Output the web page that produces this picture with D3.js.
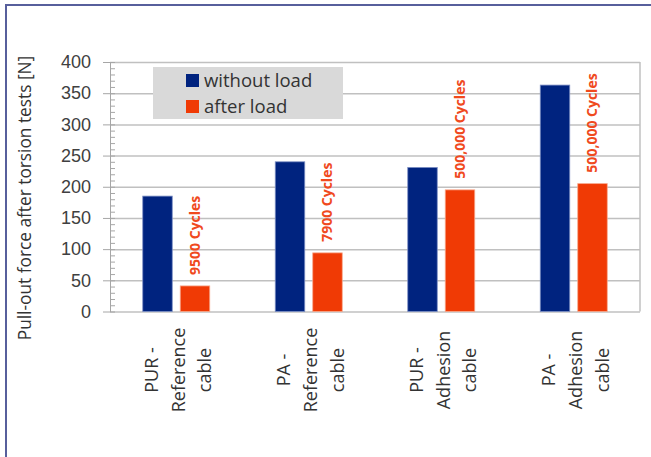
<!DOCTYPE html>
<html lang="en">
<head>
<meta charset="UTF-8">
<title>Pull-out force after torsion tests</title>
<script src="https://d3js.org/d3.v7.min.js"></script>
<style>
  body { margin: 0; background: #fff; }
  svg { display: block; font-family: "Open Sans", sans-serif; }
  .grid line { stroke: #c0c0c0; stroke-width: 1.5; }
  .grid path { display: none; }
  .yaxis path, .yaxis line { stroke: #a6a6a6; }
  .yaxis text { font-family: "Liberation Sans", Arial, sans-serif; font-size: 18px; fill: #404040; }
  .minor path { display: none; }
  .minor line { stroke: #a6a6a6; }
</style>
</head>
<body>
<div id="chart"></div>
<script>
  // data
  const categories = ["PUR - Reference cable", "PA - Reference cable", "PUR - Adhesion cable", "PA - Adhesion cable"];
  const categoryLines = [["PUR -", "Reference", "cable"], ["PA -", "Reference", "cable"], ["PUR -", "Adhesion", "cable"], ["PA -", "Adhesion", "cable"]];
  const seriesNames = ["without load", "after load"];
  const withoutLoad = [185, 240, 231, 363];
  const afterLoad = [41, 94, 195, 205];
  const cycleLabels = ["9500 Cycles", "7900 Cycles", "500,000 Cycles", "500,000 Cycles"];
  const yTicks = [0, 50, 100, 150, 200, 250, 300, 350, 400];
  const colors = ["#00237f", "#f03a05"];

  const W = 651, H = 457;
  const plot = { left: 110, right: 640, top: 62, bottom: 311.5 };

  const svg = d3.select("#chart").append("svg")
    .attr("width", W)
    .attr("height", H);

  // outer frame (only top and left visible)
  svg.append("rect")
    .attr("x", 6).attr("y", 5)
    .attr("width", 700).attr("height", 500)
    .attr("fill", "none")
    .attr("stroke", "#575f9c")
    .attr("stroke-width", 2);

  const y = d3.scaleLinear().domain([0, 400]).range([plot.bottom, plot.top]);
  const x0 = d3.scaleBand().domain(categories).range([plot.left, plot.right]).padding(0);
  const half = 33.5;
  const x1 = d3.scaleBand().domain(seriesNames)
    .range([x0.bandwidth() / 2 - half, x0.bandwidth() / 2 + half])
    .paddingInner(0.213).paddingOuter(0);

  // gridlines
  svg.append("g")
    .attr("class", "grid")
    .attr("transform", `translate(${plot.left},0)`)
    .call(d3.axisLeft(y).tickValues(yTicks).tickSize(-(plot.right - plot.left)).tickFormat(""));

  // right border of plot area
  svg.append("line")
    .attr("x1", plot.right).attr("x2", plot.right)
    .attr("y1", plot.top).attr("y2", plot.bottom)
    .attr("stroke", "#c0c0c0").attr("stroke-width", 1.5);

  // minor ticks (inside)
  svg.append("g")
    .attr("class", "minor")
    .attr("transform", `translate(${plot.left},0)`)
    .call(d3.axisRight(y).tickValues(d3.range(0, 401, 10)).tickSize(5).tickFormat(""));

  // y axis
  svg.append("g")
    .attr("class", "yaxis")
    .attr("transform", `translate(${plot.left},0)`)
    .call(d3.axisLeft(y).tickValues(yTicks).tickSize(7).tickPadding(12).tickSizeOuter(0));

  // y axis title
  svg.append("text")
    .attr("transform", `translate(31,198) rotate(-90)`)
    .attr("text-anchor", "middle")
    .attr("font-size", 17.3)
    .attr("fill", "#333")
    .text("Pull-out force after torsion tests [N]");

  // bars
  const rows = categories.map((c, i) => ({ cat: c, vals: [withoutLoad[i], afterLoad[i]], label: cycleLabels[i], lines: categoryLines[i] }));

  const groups = svg.selectAll(".group")
    .data(rows)
    .enter()
    .append("g")
    .attr("class", "group")
    .attr("transform", d => `translate(${x0(d.cat)},0)`);

  groups.selectAll("rect")
    .data(d => d.vals.map((v, k) => ({ s: seriesNames[k], v: v, k: k })))
    .enter()
    .append("rect")
    .attr("x", d => x1(d.s))
    .attr("y", d => y(d.v))
    .attr("width", x1.bandwidth())
    .attr("height", d => plot.bottom - y(d.v))
    .attr("fill", d => colors[d.k])
    .attr("stroke", d => d.k === 0 ? "#7d8fc4" : "#f7a88c")
    .attr("stroke-width", 0.8);

  // cycle labels above "after load" bars
  groups.append("text")
    .attr("transform", d => `translate(${x1("after load") + x1.bandwidth() / 2},${y(d.vals[1]) - 11}) rotate(-90)`)
    .attr("dy", "0.35em")
    .attr("font-size", 14)
    .attr("font-weight", "bold")
    .attr("fill", "#f04a1e")
    .text(d => d.label);

  // category labels
  const catText = groups.append("text")
    .attr("transform", d => `translate(${x0.bandwidth() / 2},370) rotate(-90)`)
    .attr("text-anchor", "middle")
    .attr("font-size", 18)
    .attr("fill", "#333");

  catText.selectAll("tspan")
    .data(d => d.lines)
    .enter()
    .append("tspan")
    .attr("x", 0)
    .attr("y", (d, i) => (i - 1) * 26.7 + 2)
    .attr("dy", "0.35em")
    .text(d => d);

  // legend
  const legend = svg.append("g");
  legend.append("rect")
    .attr("x", 153).attr("y", 67)
    .attr("width", 190).attr("height", 52)
    .attr("fill", "#d9d9d9");

  seriesNames.forEach((name, i) => {
    legend.append("rect")
      .attr("x", 186).attr("y", 74 + i * 26)
      .attr("width", 13).attr("height", 13)
      .attr("fill", colors[i]);
    legend.append("text")
      .attr("x", 204).attr("y", 87 + i * 26)
      .attr("font-size", 18.5)
      .attr("fill", "#333")
      .text(name);
  });
</script>
</body>
</html>
